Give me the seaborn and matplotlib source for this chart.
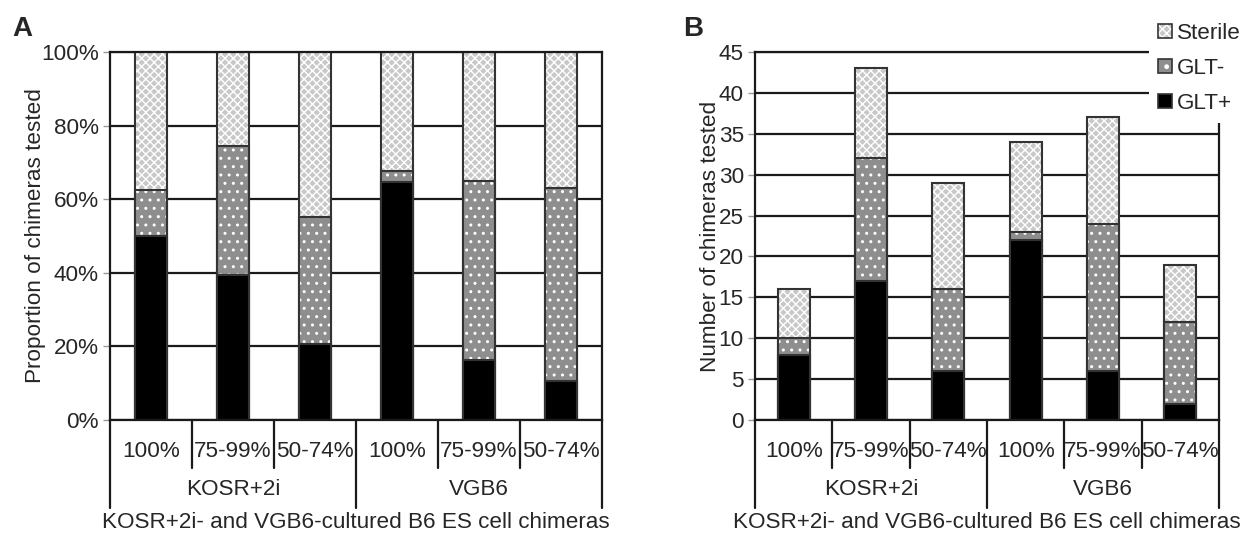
import numpy as np
import pandas as pd
import matplotlib
matplotlib.use("Agg")
import matplotlib.pyplot as plt
import matplotlib.transforms as mtransforms
from matplotlib.patches import Patch
from matplotlib.colors import to_rgba
import seaborn as sns

# ---- data ----
groups = ["KOSR+2i", "VGB6"]
chimerism = ["100%", "75-99%", "50-74%"]
glt_pos = [8, 17, 6, 22, 6, 2]
glt_neg = [2, 15, 10, 1, 18, 10]
sterile = [6, 11, 13, 11, 13, 7]
yticks_a = [0, 20, 40, 60, 80, 100]
yticks_b = [0, 5, 10, 15, 20, 25, 30, 35, 40, 45]
xlabel = "KOSR+2i- and VGB6-cultured B6 ES cell chimeras"

sns.set_theme(style="white")
plt.rcParams["font.family"] = ["Liberation Sans", "DejaVu Sans"]
plt.rcParams["hatch.linewidth"] = 1.0

keys = [f"{g} {c}" for g in groups for c in chimerism]
df = pd.DataFrame({"key": keys,
                   "pos": glt_pos, "neg": glt_neg, "ster": sterile})
df["total"] = df["pos"] + df["neg"] + df["ster"]
df["posneg"] = df["pos"] + df["neg"]
for c in ["total", "posneg", "pos"]:
    df[c + "_pct"] = df[c] / df["total"] * 100

FS = 16.2
DARK = "#1a1a1a"
EDGE = "#333333"
styles = {
    "Sterile": dict(face="#c8c8c8", hatch="xxxx"),
    "GLT-": dict(face="#8e8e8e", hatch=".."),
    "GLT+": dict(face="#000000", hatch=None),
}

fig = plt.figure(figsize=(12.44, 5.36), dpi=100)
axA = fig.add_axes([110 / 1244, 1 - 420 / 536, 492 / 1244, 368 / 536])
axB = fig.add_axes([755 / 1244, 1 - 420 / 536, 464 / 1244, 368 / 536])


def draw(ax, suffix, bar_w):
    layers = [("total" + suffix, "Sterile"), ("posneg" + suffix, "GLT-"), ("pos" + suffix, "GLT+")]
    for col, name in layers:
        n0 = len(ax.patches)
        st = styles[name]
        sns.barplot(data=df, x="key", y=col, order=keys, ax=ax, color=st["face"],
                    saturation=1, width=bar_w, edgecolor=EDGE, linewidth=1.5, errorbar=None)
        for p in ax.patches[n0:]:
            if st["hatch"]:
                p.set_hatch(st["hatch"])
                p._hatch_color = to_rgba("white")


def style_axes(ax, yticks, ylab, fmt, ylab_x):
    ax.set_xlim(-0.5, 5.5)
    ax.set_ylim(yticks[0], yticks[-1])
    ax.set_yticks(yticks)
    ax.set_yticklabels([fmt(v) for v in yticks], fontsize=FS)
    ax.set_axisbelow(True)
    ax.yaxis.grid(True, color=DARK, linewidth=1.6)
    ax.xaxis.grid(False)
    ax.tick_params(axis="y", length=5, color="#999999", width=1, pad=3, left=True)
    ax.set_xticks(range(6))
    ax.set_xticklabels(chimerism * 2, fontsize=FS)
    ax.tick_params(axis="x", length=0, pad=15)
    for s in ["left", "right", "bottom", "top"]:
        ax.spines[s].set_visible(True)
        ax.spines[s].set_color(DARK)
        ax.spines[s].set_linewidth(1.6)
    ax.set_ylabel(ylab, fontsize=FS)
    ax.yaxis.set_label_coords(ylab_x, 0.5)
    ax.set_xlabel(xlabel, fontsize=FS)
    ax.xaxis.set_label_coords(0.5, -0.25)
    tr = mtransforms.blended_transform_factory(ax.transData, ax.transAxes)
    for x in [0.5, 1.5, 3.5, 4.5]:
        ax.plot([x, x], [0, -0.13], transform=tr, clip_on=False, color=DARK, lw=1.6)
    for x in [-0.5, 2.5, 5.5]:
        ax.plot([x, x], [0, -0.24], transform=tr, clip_on=False, color=DARK, lw=1.6)
    for i, g in enumerate(groups):
        ax.text(1 + 3 * i, -0.19, g, transform=tr, ha="center", va="center", fontsize=FS)


draw(axA, "_pct", 0.40)
draw(axB, "", 0.41)
style_axes(axA, yticks_a, "Proportion of chimeras tested", lambda v: f"{v}%", -0.13)
style_axes(axB, yticks_b, "Number of chimeras tested", lambda v: f"{v}", -0.074)

handles = []
for name in ["Sterile", "GLT-", "GLT+"]:
    st = styles[name]
    h = Patch(facecolor=st["face"], edgecolor=EDGE, linewidth=1.2,
              hatch=("xxxx" if name == "Sterile" else ("." if st["hatch"] else None)))
    if st["hatch"]:
        h._hatch_color = to_rgba("white")
    handles.append(h)
leg = axB.legend(handles=handles, labels=["Sterile", "GLT-", "GLT+"], loc="upper right",
                 bbox_to_anchor=(1 + 6 / 1244, 1 - 14 / 536), bbox_transform=fig.transFigure,
                 fontsize=FS, frameon=True, facecolor="white", edgecolor="none",
                 framealpha=1, fancybox=False, handlelength=0.6, handleheight=0.6,
                 handletextpad=0.25, labelspacing=0.62, borderpad=0.4, borderaxespad=0)
leg.set_zorder(10)

fig.text(12 / 1244, 1 - 36 / 536, "A", fontsize=20, fontweight="bold", ha="left", va="baseline")
fig.text(683 / 1244, 1 - 36 / 536, "B", fontsize=20, fontweight="bold", ha="left", va="baseline")

fig.savefig("out.png", dpi=100, facecolor="white")
